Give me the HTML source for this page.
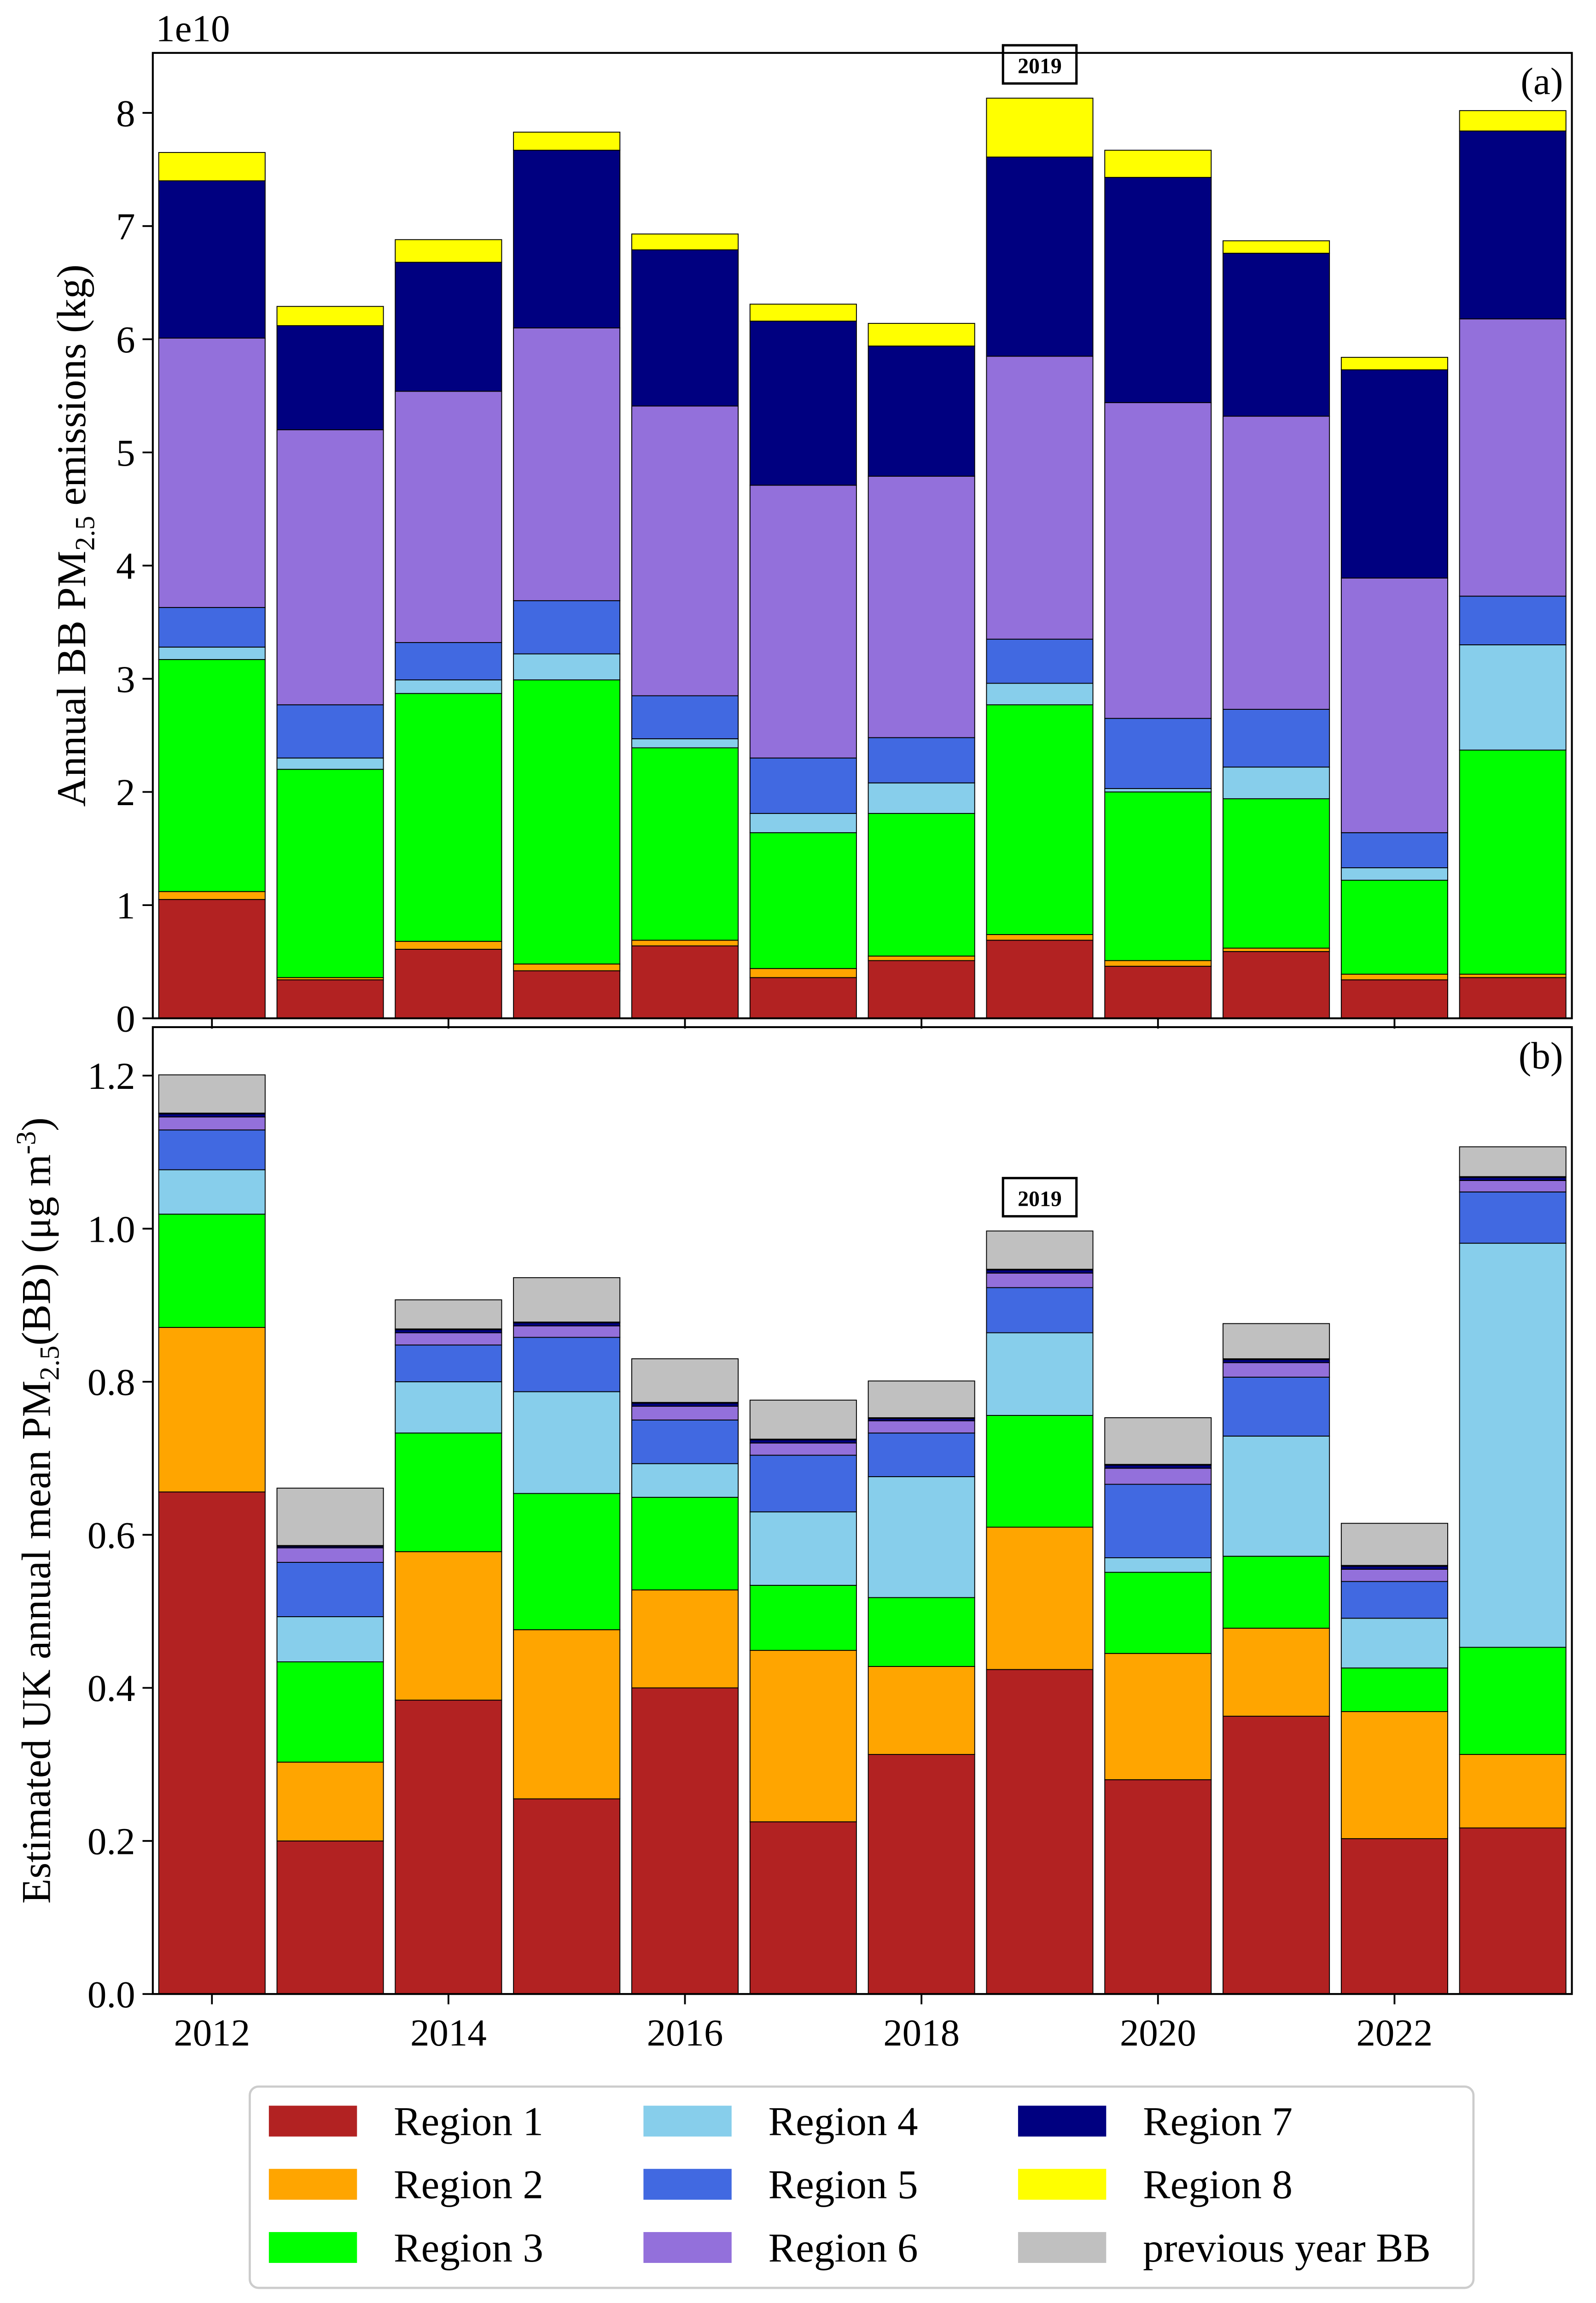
<!DOCTYPE html>
<html><head><meta charset="utf-8"><style>html,body{margin:0;padding:0;background:#fff;width:3466px;height:5031px;overflow:hidden}svg{display:block}text{font-family:"Liberation Serif",serif}</style></head>
<body>
<svg id="chart" width="3466" height="5031" viewBox="0 0 1086.4 1577.0" xmlns="http://www.w3.org/2000/svg">
<g id="pa"></g>
<g id="pb"></g>
<g id="legend"></g>
</svg>
<script>
const years=[2012,2013,2014,2015,2016,2017,2018,2019,2020,2021,2022,2023];
const seriesNames=["Region 1","Region 2","Region 3","Region 4","Region 5","Region 6","Region 7","Region 8","previous year BB"];
const colors=["#b22222","#ffa500","#00ff00","#87ceeb","#4169e1","#9370db","#000080","#ffff00","#c0c0c0"];
// panel a values (x1e10 kg)
const aR1=[1.05,0.34,0.61,0.42,0.64,0.36,0.51,0.69,0.46,0.59,0.34,0.36];
const aR2=[0.07,0.02,0.07,0.06,0.05,0.08,0.04,0.05,0.05,0.03,0.05,0.03];
const aR3=[2.05,1.84,2.19,2.51,1.70,1.20,1.26,2.03,1.49,1.32,0.83,1.98];
const aR4=[0.11,0.10,0.12,0.23,0.08,0.17,0.27,0.19,0.03,0.28,0.11,0.93];
const aR5=[0.35,0.47,0.33,0.47,0.38,0.49,0.40,0.39,0.62,0.51,0.31,0.43];
const aR6=[2.38,2.43,2.22,2.41,2.56,2.41,2.31,2.50,2.79,2.59,2.25,2.45];
const aR7=[1.39,0.92,1.14,1.57,1.38,1.45,1.15,1.76,1.99,1.44,1.84,1.66];
const aR8=[0.25,0.17,0.20,0.16,0.14,0.15,0.20,0.52,0.24,0.11,0.11,0.18];
// panel b values (ug m-3)
const bR1=[0.656,0.200,0.384,0.255,0.400,0.225,0.313,0.424,0.280,0.363,0.203,0.217];
const bR2=[0.215,0.103,0.194,0.221,0.128,0.224,0.115,0.186,0.165,0.115,0.166,0.096];
const bR3=[0.148,0.131,0.155,0.178,0.121,0.085,0.090,0.146,0.106,0.094,0.057,0.140];
const bR4=[0.058,0.059,0.067,0.133,0.044,0.096,0.158,0.108,0.019,0.157,0.065,0.528];
const bR5=[0.052,0.071,0.048,0.071,0.057,0.074,0.057,0.059,0.096,0.077,0.048,0.067];
const bR6=[0.017,0.019,0.016,0.015,0.018,0.016,0.016,0.019,0.021,0.019,0.016,0.015];
const bR7=[0.004,0.002,0.004,0.004,0.004,0.004,0.003,0.004,0.004,0.004,0.004,0.004];
const bR8=[0.001,0.001,0.001,0.001,0.001,0.001,0.001,0.001,0.001,0.001,0.001,0.001];
const bPrev=[0.050,0.075,0.038,0.058,0.057,0.051,0.048,0.050,0.061,0.046,0.055,0.039];
const aTicks=[0,1,2,3,4,5,6,7,8];
const bTicks=[0,0.2,0.4,0.6,0.8,1.0,1.2];
const xTicks=[2012,2014,2016,2018,2020,2022];

const NS="http://www.w3.org/2000/svg";
function mk(p,t,at){const e=document.createElementNS(NS,t);for(const k in at)e.setAttribute(k,at[k]);p.appendChild(e);return e;}
const X0=104,X1=1070;
const xs=v=>X0+(v-2011.5)/12*(X1-X0);
const BW=0.9*(X1-X0)/12;

function panel(g,top,bot,ymax,series,ticks,fmt,label,tag,labelX,ylabelParts){
  const ys=v=>bot-v/ymax*(bot-top);
  years.forEach((yr,i)=>{
    let c=0;
    series.forEach((s,k)=>{
      const v=s[i];const y0=ys(c),y1=ys(c+v);c+=v;
      const r=mk(g,'rect',{x:xs(yr)-BW/2,y:y1,width:BW,height:y0-y1,fill:colors[k],stroke:'#000','stroke-width':0.6});
      
      
    });
    if(yr===2019){
      const yb=ys(c);
      const b=mk(g,'rect',{x:xs(yr)-25,y:yb-36,width:50,height:26,fill:'#fff',stroke:'#000','stroke-width':1.6});
      
      
      const t=mk(g,'text',{x:xs(yr),y:yb-17,'font-size':15,'font-weight':'bold','text-anchor':'middle'});t.textContent='2019';
      
      
    }
  });
  const f=mk(g,'rect',{x:X0,y:top,width:X1-X0,height:bot-top,fill:'none',stroke:'#000','stroke-width':1.3});
  
  
  ticks.forEach(t=>{
    mk(g,'line',{x1:X0-7,x2:X0,y1:ys(t),y2:ys(t),stroke:'#000','stroke-width':1.2});
    const tx=mk(g,'text',{x:X0-12,y:ys(t)+9,'font-size':26,'text-anchor':'end'});tx.textContent=fmt(t);
    
    
  });
  xTicks.forEach(t=>mk(g,'line',{x1:xs(t),x2:xs(t),y1:bot,y2:bot+7,stroke:'#000','stroke-width':1.2}));
  const pl=mk(g,'text',{x:1064,y:top+28,'font-size':26,'text-anchor':'end'});pl.textContent=label;
  
  
  const cy=(top+bot)/2;
  const yl=mk(g,'text',{x:0,y:0,'font-size':28,'text-anchor':'middle',transform:`translate(${labelX},${cy}) rotate(-90)`});
  yl.innerHTML=ylabelParts;
  
  
}
const pa=document.getElementById('pa'),pb=document.getElementById('pb');
panel(pa,36,693,8.53,[aR1,aR2,aR3,aR4,aR5,aR6,aR7,aR8],aTicks,t=>String(t),'(a)','a',58,
 'Annual BB PM<tspan font-size="19" dy="6">2.5</tspan><tspan dy="-6"> emissions (kg)</tspan>');
panel(pb,699,1357,1.2*(1357-699)/(1357-732),[bR1,bR2,bR3,bR4,bR5,bR6,bR7,bR8,bPrev],bTicks,t=>t.toFixed(1),'(b)','b',34,
 'Estimated UK annual mean PM<tspan font-size="19" dy="6">2.5</tspan><tspan dy="-6">(BB) (μg m</tspan><tspan font-size="19" dy="-10">-3</tspan><tspan dy="10">)</tspan>');
const e10=mk(pa,'text',{x:106,y:28,'font-size':26});e10.textContent='1e10';


xTicks.forEach(t=>{const tx=mk(pb,'text',{x:xs(t),y:1392,'font-size':26,'text-anchor':'middle'});tx.textContent=t;
 
 });
const lg=document.getElementById('legend');
const lb=mk(lg,'rect',{x:170,y:1420,width:833,height:137,rx:6,fill:'#fff',stroke:'#ccc','stroke-width':1.5});


seriesNames.forEach((n,k)=>{
  const col=Math.floor(k/3),row=k%3;
  const px=183+col*255,py=1433+row*43;
  const g=mk(lg,'g',{});
  
  
  mk(g,'rect',{x:px,y:py,width:60,height:21,fill:colors[k]});
  const t=mk(g,'text',{x:px+85,y:py+20,'font-size':28});t.textContent=n;
});
</script>
</body></html>
